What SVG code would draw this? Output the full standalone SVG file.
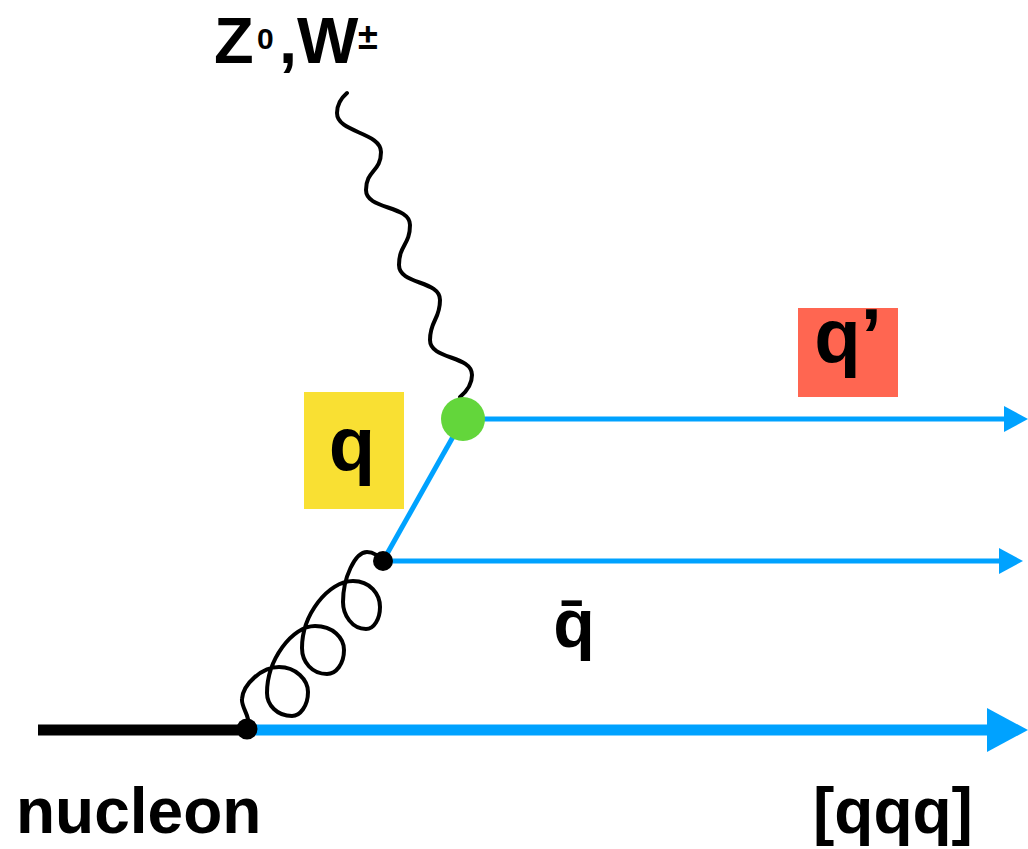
<svg xmlns="http://www.w3.org/2000/svg" width="1028" height="849" viewBox="0 0 1028 849">
  <style>
    .lbl { font-family: "Liberation Sans", Arial, sans-serif; font-weight: bold; fill: #000; }
    .quark { stroke: #00a2ff; fill: none; }
    .boson { stroke: #000; fill: none; stroke-width: 4; stroke-linecap: round; stroke-linejoin: round; }
  </style>
  <defs>
    <marker id="arrowThin" viewBox="0 0 24 26" refX="2" refY="13" markerWidth="24" markerHeight="26" markerUnits="userSpaceOnUse" orient="auto">
      <path d="M0,0 L24,13 L0,26 Z" fill="#00a2ff"/>
    </marker>
    <marker id="arrowThick" viewBox="0 0 41 44" refX="2" refY="22" markerWidth="41" markerHeight="44" markerUnits="userSpaceOnUse" orient="auto">
      <path d="M0,0 L41,22 L0,44 Z" fill="#00a2ff"/>
    </marker>
  </defs>

  <rect width="1028" height="849" fill="#fff"/>

  <!-- connectors: quark lines, boson and gluon -->
  <g id="connectors">
    <line x1="38" y1="730" x2="247" y2="730" stroke="#000" stroke-width="11"/>
    <line class="quark" x1="247" y1="730" x2="989" y2="730" stroke-width="11" marker-end="url(#arrowThick)"/>
    <line class="quark" x1="383" y1="561" x2="1001" y2="561" stroke-width="5" marker-end="url(#arrowThin)"/>
    <line class="quark" x1="383" y1="561" x2="463" y2="419" stroke-width="5"/>
    <line class="quark" x1="463" y1="419" x2="1006" y2="419" stroke-width="5" marker-end="url(#arrowThin)"/>
    <!-- weak boson (wavy) -->
    <path class="boson" d="M347,93 C340,99 337,106 337,113
      C337,133 381,132 381,152
      C381,172 366,170 366,190
      C366,210 410,205 410,225
      C410,245 399,245 399,265
      C399,285 440,280 440,300
      C440,320 430,320 430,340
      C430,360 472,355 472,375
      C472,385 466,392 460,397"/>
    <!-- gluon (curly) -->
    <path class="boson" d="M247,727 C252,718 241,708 242,699
      C243,684 262,667 279,667
      C296,667 308,680 308,692
      C308,706 300,716 292,716
      C277,716 267,705 267,693
      C267,660 292,626 315,626
      C333,626 344,638 344,650
      C344,664 336,674 327,674
      C312,674 302,662 302,648
      C302,615 328,581 353,581
      C370,581 380,594 380,607
      C380,619 374,629 366,629
      C352,629 343,615 343,602
      C343,578 355,552 367,552
      C374,552 378,556 383,561"/>
  </g>

  <!-- vertices -->
  <g id="vertex-nucleon">
    <circle cx="247" cy="729" r="10.5" fill="#000"/>
  </g>
  <g id="vertex-gluon">
    <circle cx="383" cy="561" r="10" fill="#000"/>
  </g>
  <g id="vertex-weak">
    <circle cx="463" cy="419" r="22" fill="#63d63b"/>
  </g>

  <!-- labels -->
  <g id="label-boson">
    <text class="lbl" y="63" font-size="65"><tspan x="214">Z</tspan><tspan x="257" y="49" font-size="30">0</tspan><tspan x="279" y="63" font-size="65">,W</tspan><tspan x="358" y="49" font-size="36">±</tspan></text>
  </g>
  <g id="label-q">
    <rect x="304" y="392" width="100" height="117" fill="#f9e033"/>
    <text class="lbl" x="352" y="470" font-size="76" text-anchor="middle">q</text>
  </g>
  <g id="label-qprime">
    <rect x="798" y="308" width="100" height="89" fill="#ff6651"/>
    <text class="lbl" x="848" y="362" font-size="76" text-anchor="middle">q’</text>
  </g>
  <g id="label-qbar">
    <text class="lbl" x="574" y="647" font-size="68" text-anchor="middle">q̄</text>
  </g>
  <g id="label-nucleon">
    <text class="lbl" x="16" y="833" font-size="64">nucleon</text>
  </g>
  <g id="label-qqq">
    <text class="lbl" x="813" y="833" font-size="64">[qqq]</text>
  </g>
</svg>
